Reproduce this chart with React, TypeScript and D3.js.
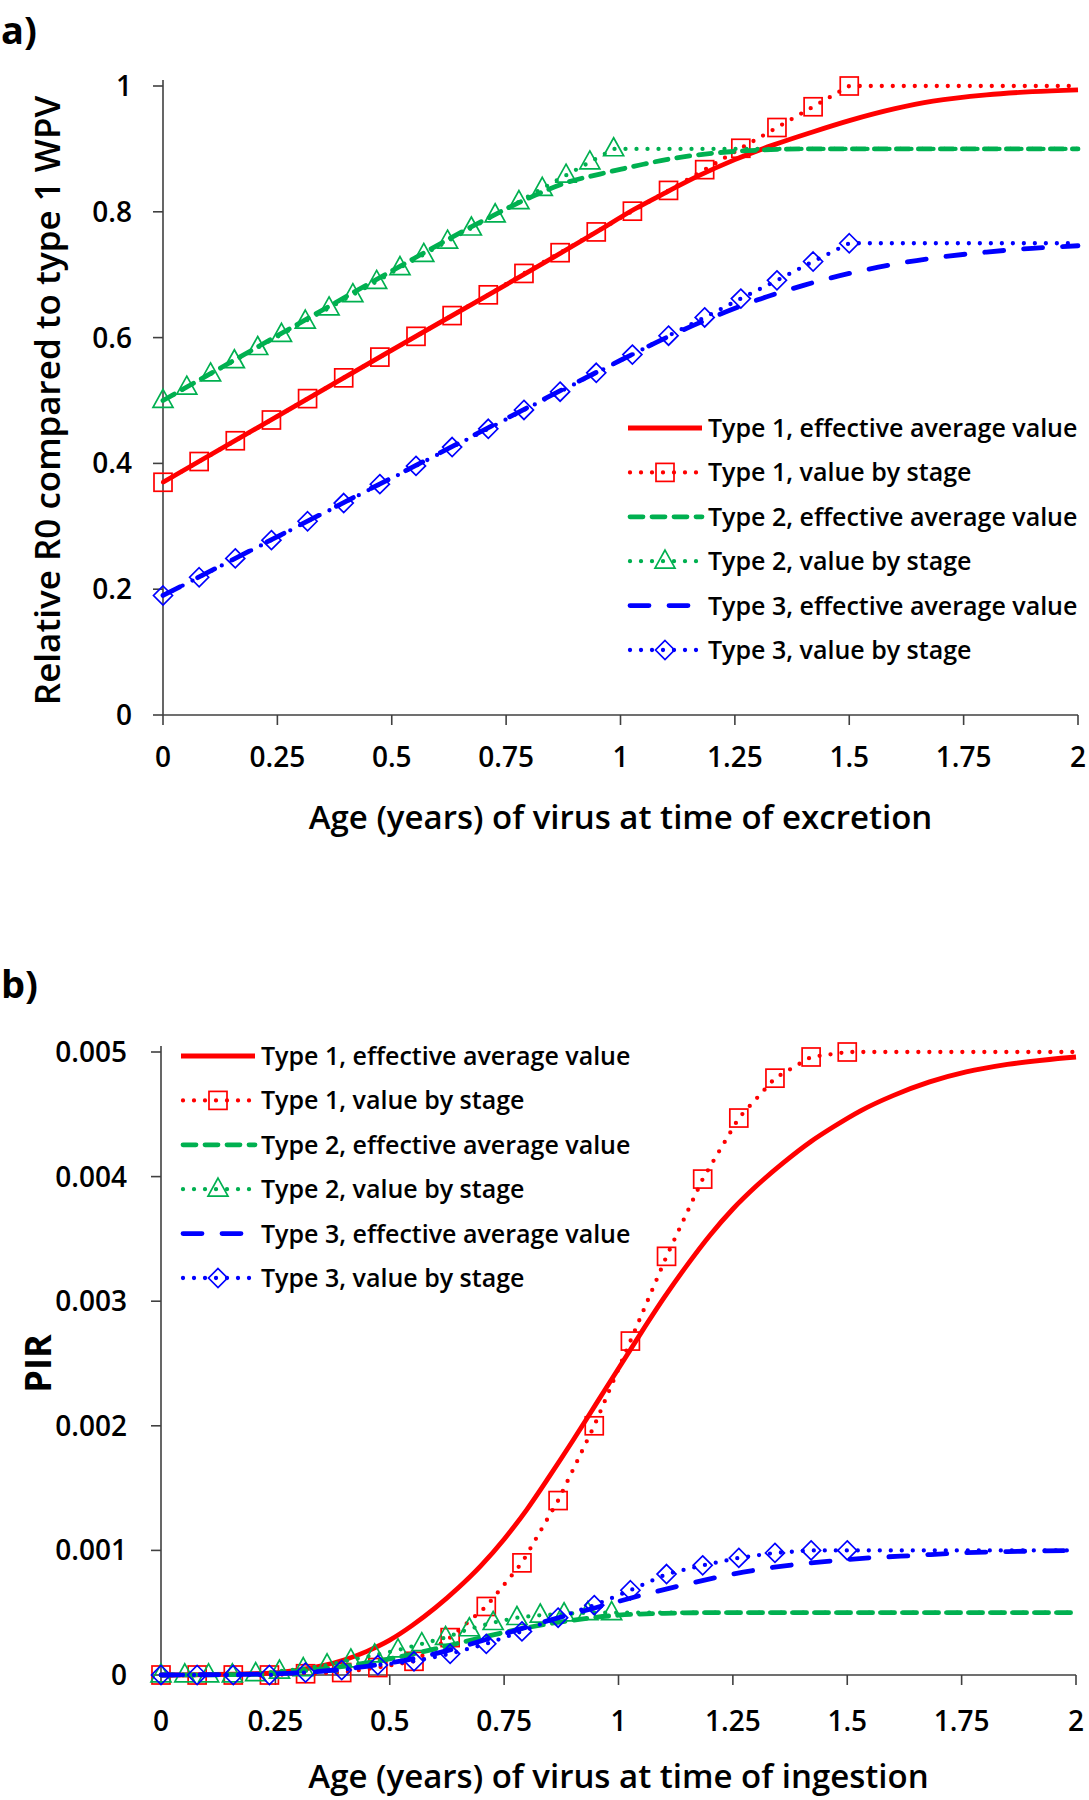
import React from "react";
import * as d3 from "d3";

// ---------- DATA ----------
const stageX13 = [0, 0.079, 0.158, 0.237, 0.316, 0.395, 0.474, 0.553, 0.632, 0.711, 0.789, 0.868, 0.947, 1.026, 1.105, 1.184, 1.263, 1.342, 1.421, 1.5];
const stageX2 = [0, 0.052, 0.104, 0.156, 0.207, 0.259, 0.311, 0.363, 0.415, 0.467, 0.518, 0.57, 0.622, 0.674, 0.726, 0.778, 0.829, 0.881, 0.933, 0.985];

// Panel a: relative R0
const aStage1 = [0.37, 0.403, 0.436, 0.469, 0.503, 0.536, 0.569, 0.602, 0.635, 0.668, 0.702, 0.735, 0.768, 0.801, 0.834, 0.867, 0.901, 0.934, 0.967, 1.0];
const aStage2 = [0.5, 0.521, 0.542, 0.563, 0.584, 0.605, 0.626, 0.647, 0.668, 0.689, 0.711, 0.732, 0.753, 0.774, 0.795, 0.816, 0.837, 0.858, 0.879, 0.9];
const aStage3 = [0.19, 0.219, 0.249, 0.278, 0.308, 0.337, 0.367, 0.396, 0.426, 0.455, 0.485, 0.514, 0.544, 0.573, 0.603, 0.632, 0.662, 0.691, 0.721, 0.75];

const aEff1X = [0, 0.5, 0.95, 1.03, 1.1, 1.17, 1.25, 1.333, 1.42, 1.5, 1.6, 1.683, 1.8, 1.9, 2.0];
const aEff1 = [0.37, 0.58, 0.769, 0.804, 0.831, 0.857, 0.883, 0.906, 0.927, 0.945, 0.964, 0.976, 0.986, 0.991, 0.994];
const aEff2X = [0, 0.25, 0.5, 0.7, 0.8, 0.88, 0.955, 1.04, 1.1, 1.2, 1.3, 1.4, 2.0];
const aEff2 = [0.5, 0.603, 0.706, 0.786, 0.822, 0.846, 0.86, 0.874, 0.883, 0.893, 0.898, 0.9, 0.9];
const aEff3X = [0, 0.5, 1.0, 1.1, 1.2, 1.3, 1.4, 1.5, 1.6, 1.7, 1.8, 1.9, 2.0];
const aEff3 = [0.19, 0.377, 0.564, 0.6, 0.632, 0.66, 0.683, 0.702, 0.717, 0.728, 0.736, 0.742, 0.746];

// Panel b: PIR
const bStage1 = [0, 0, 0, 0, 0.00001, 0.00002, 0.00006, 0.00011, 0.0003, 0.00055, 0.0009, 0.0014, 0.002, 0.00268, 0.00336, 0.00398, 0.00447, 0.00479, 0.00496, 0.005];
const bStage2 = [0, 0, 0, 0, 0.00001, 0.00003, 0.00005, 0.00008, 0.00012, 0.00016, 0.0002, 0.00025, 0.0003, 0.00037, 0.00042, 0.00046, 0.00048, 0.00049, 0.0005, 0.0005];
const bStage3 = [0, 0, 0, 0, 0.00002, 0.00004, 0.00008, 0.00011, 0.00017, 0.00025, 0.00035, 0.00046, 0.00056, 0.00068, 0.00081, 0.00088, 0.00094, 0.00098, 0.001, 0.001];

const bEff1X = [0, 0.2, 0.3, 0.4, 0.45, 0.5, 0.55, 0.6, 0.65, 0.7, 0.75, 0.8, 0.85, 0.9, 0.95, 1.0, 1.05, 1.1, 1.15, 1.2, 1.25, 1.3, 1.36, 1.42, 1.47, 1.53, 1.6, 1.68, 1.76, 1.85, 2.0];
const bEff1 = [0, 0.00001, 0.00004, 0.00012, 0.00019, 0.00028, 0.0004, 0.00054, 0.0007, 0.00088, 0.00109, 0.00133, 0.0016, 0.00188, 0.00217, 0.00246, 0.00275, 0.00303, 0.00329, 0.00353, 0.00374, 0.00392, 0.00411, 0.00428, 0.0044, 0.00453, 0.00465, 0.00476, 0.00484, 0.0049, 0.00496];
const bEff2X = [0, 0.2, 0.3, 0.4, 0.5, 0.6, 0.7, 0.8, 0.9, 1.0, 1.1, 1.2, 1.3, 2.0];
const bEff2 = [0, 0.000005, 0.00003, 0.00007, 0.00013, 0.00021, 0.0003, 0.00038, 0.00044, 0.00048, 0.000495, 0.0005, 0.0005, 0.0005];
const bEff3X = [0, 0.25, 0.35, 0.45, 0.55, 0.65, 0.75, 0.85, 0.95, 1.05, 1.15, 1.25, 1.35, 1.45, 1.55, 1.65, 1.75, 1.85, 2.0];
const bEff3 = [0, 0.00001, 0.00003, 0.00007, 0.00013, 0.00022, 0.00033, 0.00044, 0.00054, 0.00064, 0.00073, 0.00081, 0.00087, 0.00091, 0.00094, 0.00096, 0.00098, 0.00099, 0.001];

const xTicks = [0, 0.25, 0.5, 0.75, 1, 1.25, 1.5, 1.75, 2];
const xTickLabels = ["0", "0.25", "0.5", "0.75", "1", "1.25", "1.5", "1.75", "2"];
const aYTicks = [0, 0.2, 0.4, 0.6, 0.8, 1];
const aYTickLabels = ["0", "0.2", "0.4", "0.6", "0.8", "1"];
const bYTicks = [0, 0.001, 0.002, 0.003, 0.004, 0.005];
const bYTickLabels = ["0", "0.001", "0.002", "0.003", "0.004", "0.005"];

const legendLabels = [
  "Type 1, effective average value",
  "Type 1, value by stage",
  "Type 2, effective average value",
  "Type 2, value by stage",
  "Type 3, effective average value",
  "Type 3, value by stage",
];

// ---------- STYLES ----------
const RED = "#FF0000";
const GREEN = "#00B050";
const BLUE = "#0000FF";
const AXIS = "#404040";
const FONT = "'Open Sans', 'DejaVu Sans', sans-serif";

type Style = { color: string; width: number; dash?: string; cap?: string; marker?: string };
const styles: Style[] = [
  { color: RED, width: 4.8 },
  { color: RED, width: 4.3, dash: "0 11", cap: "round", marker: "square" },
  { color: GREEN, width: 4.8, dash: "13 9", cap: "round" },
  { color: GREEN, width: 4.3, dash: "0 11", cap: "round", marker: "triangle" },
  { color: BLUE, width: 4.8, dash: "19 20", cap: "round" },
  { color: BLUE, width: 4.3, dash: "0 11", cap: "round", marker: "diamond" },
];

function Marker({ kind, x, y, color }: { kind: string; x: number; y: number; color: string }) {
  const sw = 1.7;
  if (kind === "square") {
    const s = 18;
    return <rect x={x - s / 2} y={y - s / 2} width={s} height={s} fill="none" stroke={color} strokeWidth={sw} />;
  }
  if (kind === "triangle") {
    const w = 20, h = 18;
    const pts = `${x},${y - h * 0.62} ${x + w / 2},${y + h * 0.38} ${x - w / 2},${y + h * 0.38}`;
    return <polygon points={pts} fill="none" stroke={color} strokeWidth={sw} />;
  }
  const r = 9.5;
  const pts = `${x},${y - r} ${x + r},${y} ${x},${y + r} ${x - r},${y}`;
  return <polygon points={pts} fill="none" stroke={color} strokeWidth={sw} />;
}

type Panel = {
  x: d3.ScaleLinear<number, number>;
  y: d3.ScaleLinear<number, number>;
  yTicks: number[];
  yTickLabels: string[];
  stages: { xs: number[]; vs: number[] }[];
  effs: { xs: number[]; vs: number[] }[];
  legendX: number;
  legendY: number;
  legendStep: number;
  xTitle: string;
  yTitle: string;
  yTitleX: number;
  yTitleBold: boolean;
  yLabelRight: number;
  xLabelY: number;
  xTitleY: number;
  tag: string;
  tagY: number;
};

function PanelView({ p }: { p: Panel }) {
  const [x0, x1] = p.x.range();
  const [y0, y1] = p.y.range();
  const effLine = (xs: number[], vs: number[]) =>
    d3.line<number>().x((_, i) => p.x(xs[i])).y((v) => p.y(v)).curve(d3.curveMonotoneX)(vs) || "";
  const stageLine = (xs: number[], vs: number[]) => {
    const pts: [number, number][] = xs.map((xv, i) => [xv, vs[i]]);
    pts.push([p.x.domain()[1], vs[vs.length - 1]]);
    return d3.line<[number, number]>().x((d) => p.x(d[0])).y((d) => p.y(d[1]))(pts) || "";
  };
  const series: React.ReactNode[] = [];
  for (let t = 0; t < 3; t++) {
    const se = styles[t * 2];
    const ss = styles[t * 2 + 1];
    const eff = p.effs[t];
    const st = p.stages[t];
    series.push(
      <path key={`e${t}`} d={effLine(eff.xs, eff.vs)} fill="none" stroke={se.color} strokeWidth={se.width}
        strokeDasharray={se.dash} strokeLinecap={(se.cap as any) || "butt"} strokeLinejoin="round" />
    );
    series.push(
      <g key={`s${t}`}>
        <path d={stageLine(st.xs, st.vs)} fill="none" stroke={ss.color} strokeWidth={ss.width}
          strokeDasharray={ss.dash} strokeLinecap="round" />
        {st.xs.map((xv, i) => (
          <Marker key={i} kind={ss.marker!} x={p.x(xv)} y={p.y(st.vs[i])} color={ss.color} />
        ))}
      </g>
    );
  }
  const midX = (x0 + x1) / 2;
  return (
    <g>
      <text x={1} y={p.tagY} fontFamily={FONT} fontWeight={700} fontSize={38} fill="#000">{p.tag}</text>
      {/* axes */}
      <line x1={x0} x2={x0} y1={y0} y2={y1 - 6} stroke={AXIS} strokeWidth={1.6} />
      <line x1={x0} x2={x1} y1={y0} y2={y0} stroke={AXIS} strokeWidth={1.6} />
      {p.yTicks.map((v, i) => (
        <g key={`yt${i}`}>
          <line x1={x0 - 10} x2={x0} y1={p.y(v)} y2={p.y(v)} stroke={AXIS} strokeWidth={1.6} />
          <text x={p.yLabelRight} y={p.y(v)} dy="0.36em" textAnchor="end" fontFamily={FONT} fontWeight={600}
            fontSize={28} fill="#000">{p.yTickLabels[i]}</text>
        </g>
      ))}
      {xTicks.map((v, i) => (
        <g key={`xt${i}`}>
          <line x1={p.x(v)} x2={p.x(v)} y1={y0} y2={y0 + 10} stroke={AXIS} strokeWidth={1.6} />
          <text x={p.x(v)} y={p.xLabelY} textAnchor="middle" fontFamily={FONT} fontWeight={600}
            fontSize={28} fill="#000">{xTickLabels[i]}</text>
        </g>
      ))}
      <text x={midX} y={p.xTitleY} textAnchor="middle" fontFamily={FONT} fontWeight={600} fontSize={33}
        fill="#000">{p.xTitle}</text>
      <text transform={`translate(${p.yTitleX},${(y0 + y1) / 2}) rotate(-90)`} textAnchor="middle" dy="0.35em"
        fontFamily={FONT} fontWeight={p.yTitleBold ? 700 : 600} fontSize={p.yTitleBold ? 36 : 35} fill="#000">{p.yTitle}</text>
      {series}
      {/* legend */}
      {legendLabels.map((lab, i) => {
        const s = styles[i];
        const ly = p.legendY + i * p.legendStep;
        const lx0 = p.legendX, lx1 = p.legendX + 74;
        return (
          <g key={`lg${i}`}>
            <line x1={lx0 + (s.cap === "round" ? 2 : 0)} x2={lx1} y1={ly} y2={ly} stroke={s.color} strokeWidth={s.width}
              strokeDasharray={s.dash} strokeLinecap={(s.cap as any) || "butt"} />
            {s.marker && <Marker kind={s.marker} x={(lx0 + lx1) / 2} y={ly} color={s.color} />}
            <text x={lx1 + 6} y={ly} dy="0.36em" fontFamily={FONT} fontWeight={600} fontSize={25}
              fill="#000">{lab}</text>
          </g>
        );
      })}
    </g>
  );
}

export default function App() {
  const panelA: Panel = {
    x: d3.scaleLinear().domain([0, 2]).range([163, 1078]),
    y: d3.scaleLinear().domain([0, 1]).range([715, 86]),
    yTicks: aYTicks,
    yTickLabels: aYTickLabels,
    stages: [
      { xs: stageX13, vs: aStage1 },
      { xs: stageX2, vs: aStage2 },
      { xs: stageX13, vs: aStage3 },
    ],
    effs: [
      { xs: aEff1X, vs: aEff1 },
      { xs: aEff2X, vs: aEff2 },
      { xs: aEff3X, vs: aEff3 },
    ],
    legendX: 628,
    legendY: 428,
    legendStep: 44.4,
    xTitle: "Age (years) of virus at time of excretion",
    yTitle: "Relative R0 compared to type 1 WPV",
    yTitleX: 48,
    yTitleBold: false,
    yLabelRight: 132,
    xLabelY: 767,
    xTitleY: 829,
    tag: "a)",
    tagY: 44,
  };
  const panelB: Panel = {
    x: d3.scaleLinear().domain([0, 2]).range([161, 1076]),
    y: d3.scaleLinear().domain([0, 0.005]).range([1675, 1052]),
    yTicks: bYTicks,
    yTickLabels: bYTickLabels,
    stages: [
      { xs: stageX13, vs: bStage1 },
      { xs: stageX2, vs: bStage2 },
      { xs: stageX13, vs: bStage3 },
    ],
    effs: [
      { xs: bEff1X, vs: bEff1 },
      { xs: bEff2X, vs: bEff2 },
      { xs: bEff3X, vs: bEff3 },
    ],
    legendX: 181,
    legendY: 1056,
    legendStep: 44.4,
    xTitle: "Age (years) of virus at time of ingestion",
    yTitle: "PIR",
    yTitleX: 38,
    yTitleBold: true,
    yLabelRight: 127,
    xLabelY: 1731,
    xTitleY: 1788,
    tag: "b)",
    tagY: 998,
  };
  return (
    <div style={{ position: "absolute", left: 0, top: 0 }}>
      <svg width={1089} height={1800} viewBox="0 0 1089 1800" style={{ display: "block", background: "#fff" }}>
        <rect x={0} y={0} width={1089} height={1800} fill="#fff" />
        <PanelView p={panelA} />
        <PanelView p={panelB} />
      </svg>
    </div>
  );
}
